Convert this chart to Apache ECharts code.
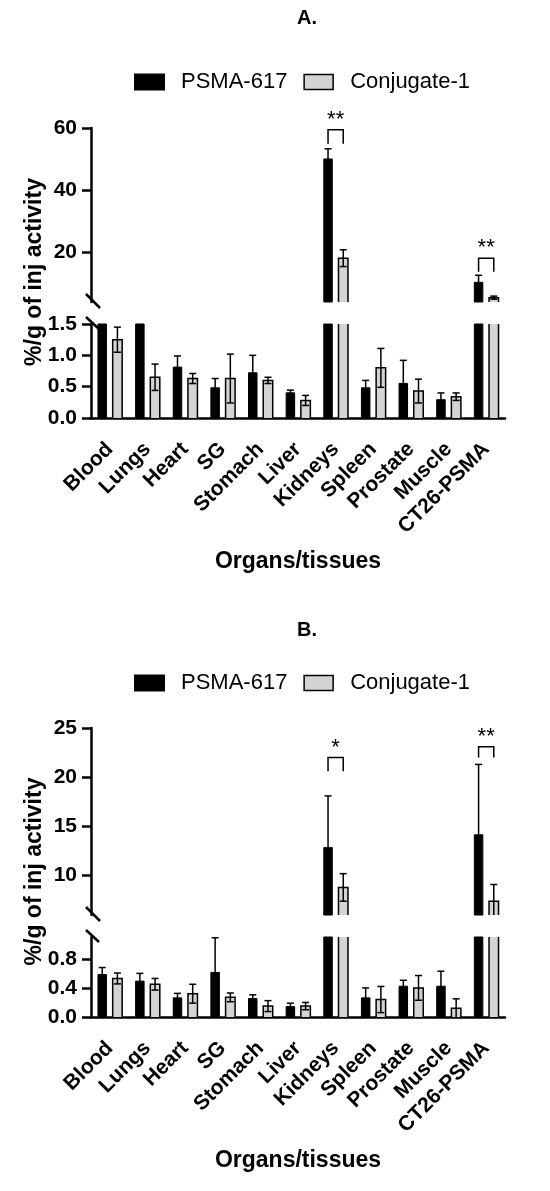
<!DOCTYPE html>
<html>
<head>
<meta charset="utf-8">
<script src="https://cdn.jsdelivr.net/npm/echarts@6/dist/echarts.min.js"></script>
<style>
html, body { margin: 0; background: #fff; }
#chart { width: 550px; height: 1191px; }
</style>
</head>
<body>
<div id="chart"></div>
<script>
// organs on the x axis
var organs = ['Blood', 'Lungs', 'Heart', 'SG', 'Stomach', 'Liver', 'Kidneys', 'Spleen', 'Prostate', 'Muscle', 'CT26-PSMA'];

// A. mean and SD (%/g)
var psmaA    = [2.3, 1.8, 0.82, 0.49, 0.73, 0.41, 50.2, 0.49, 0.56, 0.30, 10.5];
var psmaAErr = [0.3, 0.2, 0.17, 0.14, 0.27, 0.035, 3.1, 0.11, 0.36, 0.10, 2.1];
var conjA    = [1.25, 0.65, 0.63, 0.63, 0.60, 0.28, 18.1, 0.80, 0.43, 0.34, 5.4];
var conjAErr = [0.20, 0.21, 0.08, 0.39, 0.05, 0.08, 2.7, 0.31, 0.19, 0.06, 0.5];

// B. mean and SD (%/g)
var psmaB    = [0.59, 0.50, 0.27, 0.62, 0.26, 0.15, 12.9, 0.27, 0.43, 0.43, 14.2];
var psmaBErr = [0.09, 0.10, 0.055, 0.47, 0.045, 0.04, 5.2, 0.13, 0.075, 0.20, 7.1];
var conjB    = [0.53, 0.45, 0.32, 0.27, 0.15, 0.15, 8.8, 0.24, 0.40, 0.12, 7.4];
var conjBErr = [0.075, 0.08, 0.13, 0.06, 0.075, 0.05, 1.4, 0.18, 0.17, 0.13, 1.7];

// significance brackets: [organ index, bracket top, leg end, stars]
var sigA = [[6, 59.4, 54.9, '**'], [10, 18.1, 13.7, '**']];
var sigB = [[6, 22.0, 20.6, '*'], [10, 23.1, 22.0, '**']];

// tick labels
var ticksAUp = [20, 40, 60];
var ticksALow = [0, 0.5, 1.0, 1.5];
var ticksBUp = [10, 15, 20, 25];
var ticksBLow = [0, 0.4, 0.8];

var FONT = 'Liberation Sans, Arial, sans-serif';
var L = 91, W = 414;
var OFF = 7.6;   // half distance between the two bars of a group
var BW = 9.5;
var GRAY = '#d4d4d4';

var grids = [
    { left: L, width: W, top: 128, height: 174 },  // A upper
    { left: L, width: W, top: 324, height: 94 },   // A lower
    { left: L, width: W, top: 728, height: 187 },  // B upper
    { left: L, width: W, top: 937, height: 80 }    // B lower
];
var yRanges = [[4, 60, ticksAUp, 0], [0, 1.5, ticksALow, 1], [6, 25, ticksBUp, 0], [0, 1.1, ticksBLow, 1]];

var chart = echarts.init(document.getElementById('chart'), null, { renderer: 'canvas' });

// error bars, plus the open outline of the grey bars (no edge where the axis is cut)
function errRender(params, api) {
    var i = api.value(0), m = api.value(1), e = api.value(2), side = api.value(3);
    var t = api.coord([i, m + e]), b = api.coord([i, m - e]);
    var x = t[0] + side * OFF;
    var st = { stroke: '#000', lineWidth: 1.5 };
    var kids = [
        { type: 'line', shape: { x1: x, y1: t[1], x2: x, y2: b[1] }, style: st },
        { type: 'line', shape: { x1: x - 3.5, y1: t[1], x2: x + 3.5, y2: t[1] }, style: st },
        { type: 'line', shape: { x1: x - 3.5, y1: b[1], x2: x + 3.5, y2: b[1] }, style: st }
    ];
    if (side > 0) {
        var top = api.coord([i, m]), base = api.coord([i, 0]);
        var xl = x - BW / 2, xr = x + BW / 2;
        kids.unshift({
            type: 'polyline',
            shape: { points: [[xl, base[1]], [xl, top[1]], [xr, top[1]], [xr, base[1]]] },
            style: { stroke: '#000', lineWidth: 1.5, fill: null }
        });
    }
    return { type: 'group', children: kids };
}

function sigRender(list) {
    return function (params, api) {
        var i = api.value(0);
        var t = api.coord([i, api.value(1)]), l = api.coord([i, api.value(2)]);
        var x1 = t[0] - OFF, x2 = t[0] + OFF;
        return {
            type: 'group',
            children: [
                {
                    type: 'polyline',
                    shape: { points: [[x1, l[1]], [x1, t[1]], [x2, t[1]], [x2, l[1]]] },
                    style: { stroke: '#000', lineWidth: 1.5, fill: null }
                },
                {
                    type: 'text', x: t[0], y: t[1] - 10,
                    style: { text: list[params.dataIndex][3], textAlign: 'center', textVerticalAlign: 'middle', font: '22px ' + FONT, fill: '#000' }
                }
            ]
        };
    };
}

var xAxes = [], yAxes = [], series = [];
grids.forEach(function (g, k) {
    var lower = k % 2 === 1;
    xAxes.push({
        type: 'category', gridIndex: k, data: organs, show: lower,
        axisLine: { lineStyle: { color: '#000', width: 2.5 } },
        axisTick: { alignWithLabel: true, length: 12, lineStyle: { color: '#000', width: 2.5 } },
        axisLabel: { interval: 0, rotate: 45, margin: 28, color: '#000', fontSize: 21, fontWeight: 'bold', fontFamily: FONT },
        splitLine: { show: false }
    });
    var r = yRanges[k];
    yAxes.push({
        type: 'value', gridIndex: k, min: r[0], max: r[1],
        axisLine: { show: true, lineStyle: { color: '#000', width: 2.5 } },
        axisTick: { show: true, length: 9, customValues: r[2], lineStyle: { color: '#000', width: 2.5 } },
        axisLabel: {
            customValues: r[2], margin: 14, color: '#000', fontSize: 21, fontWeight: 'bold', fontFamily: FONT,
            formatter: function (v) { return v.toFixed(r[3]); }
        },
        splitLine: { show: false }
    });

    var panelA = k < 2;
    var ps = panelA ? psmaA : psmaB, pe = panelA ? psmaAErr : psmaBErr;
    var cj = panelA ? conjA : conjB, ce = panelA ? conjAErr : conjBErr;
    series.push({
        name: 'PSMA-617', type: 'bar', xAxisIndex: k, yAxisIndex: k, data: ps,
        barWidth: BW, barGap: '60%', clip: true,
        itemStyle: { color: '#000', borderColor: '#000', borderWidth: 1 }
    });
    series.push({
        name: 'Conjugate-1', type: 'bar', xAxisIndex: k, yAxisIndex: k, data: cj,
        barWidth: BW, barGap: '60%', clip: true,
        itemStyle: { color: GRAY, borderWidth: 0 }
    });
    var errData = [];
    organs.forEach(function (o, i) {
        errData.push([i, ps[i], pe[i], -1]);
        errData.push([i, cj[i], ce[i], 1]);
    });
    series.push({
        type: 'custom', xAxisIndex: k, yAxisIndex: k, data: errData, clip: true, z: 5,
        renderItem: errRender, silent: true
    });
    if (!lower) {
        var sig = panelA ? sigA : sigB;
        series.push({
            type: 'custom', xAxisIndex: k, yAxisIndex: k, z: 5, silent: true,
            data: sig.map(function (s) { return [s[0], s[1], s[2]]; }),
            renderItem: sigRender(sig)
        });
    }
});

// titles, axis names and break marks
var graphics = [];
function panelText(top, gUp, gLow, letter) {
    var bottom = gLow.top + gLow.height;
    graphics.push({ type: 'text', x: 307, y: top, style: { text: letter, font: 'bold 20px ' + FONT, fill: '#000', textAlign: 'center', textVerticalAlign: 'middle' } });
    graphics.push({
        type: 'text', x: 35, y: (gUp.top + bottom) / 2 - 1, rotation: Math.PI / 2,
        style: { text: '%/g of inj activity', font: 'bold 23px ' + FONT, fill: '#000', textAlign: 'center', textVerticalAlign: 'middle' }
    });
    graphics.push({ type: 'text', x: L + W / 2, y: bottom + 144, style: { text: 'Organs/tissues', font: 'bold 23px ' + FONT, fill: '#000', textAlign: 'center', textVerticalAlign: 'middle' } });
    var ub = gUp.top + gUp.height, lt = gLow.top;
    var st = { stroke: '#000', lineWidth: 2.5 };
    graphics.push({ type: 'line', shape: { x1: L - 5, y1: ub - 8, x2: L + 9, y2: ub + 6 }, style: st });
    graphics.push({ type: 'line', shape: { x1: L - 5, y1: lt - 7, x2: L + 8, y2: lt + 5 }, style: st });
}
panelText(18, grids[0], grids[1], 'A.');
panelText(630, grids[2], grids[3], 'B.');

function legendAt(top) {
    return {
        top: top, left: 129, icon: 'rect', itemWidth: 29, itemHeight: 15, itemGap: 16,
        data: ['PSMA-617', { name: 'Conjugate-1', itemStyle: { color: GRAY, borderColor: '#000', borderWidth: 1.5 } }],
        selectedMode: false,
        textStyle: { fontSize: 22, color: '#000', fontFamily: FONT, padding: [0, 0, 0, 12] }
    };
}

chart.setOption({
    animation: false,
    legend: [legendAt(66), legendAt(667)],
    grid: grids.map(function (g) { return Object.assign({ outerBoundsMode: 'none' }, g); }),
    xAxis: xAxes,
    yAxis: yAxes,
    series: series,
    graphic: graphics
});
</script>
</body>
</html>
